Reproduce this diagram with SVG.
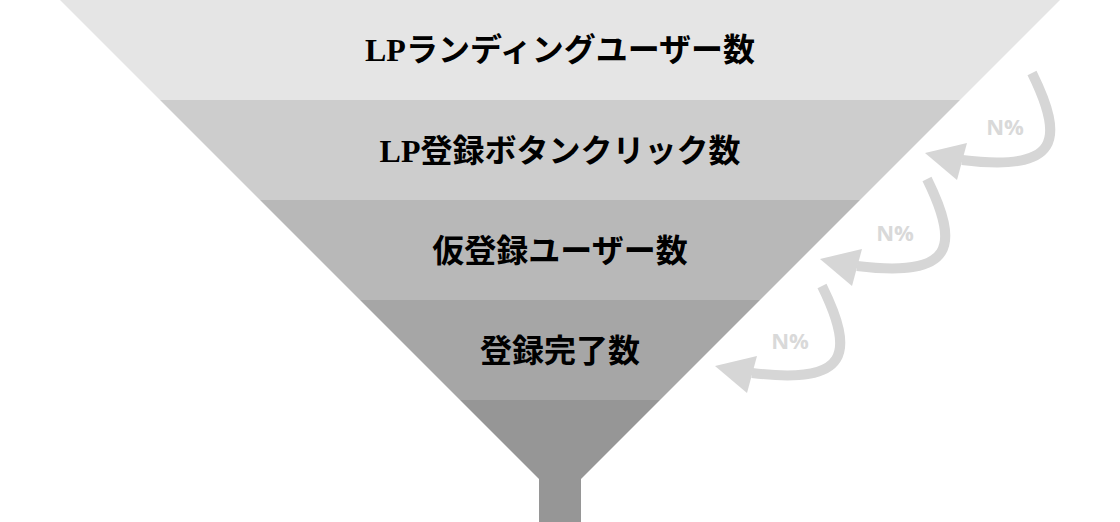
<svg xmlns="http://www.w3.org/2000/svg" xmlns:xlink="http://www.w3.org/1999/xlink" width="1120" height="522" viewBox="0 0 1120 522">
<style>
.lbl{font-family:"Liberation Serif","Noto Sans CJK JP",serif;font-weight:bold;font-size:32px;fill:#000;text-anchor:middle;dominant-baseline:central}
.pct{font-family:"Open Sans","Liberation Sans",sans-serif;font-weight:bold;font-size:22px;fill:#d9d9d9;text-anchor:middle;dominant-baseline:central}
.arc{fill:none;stroke:#d6d6d6;stroke-width:10}
.head{fill:#d6d6d6}
</style>
<defs>
<g id="loop">
<path class="arc" d="M1032,73 C1065,140 1060,172 962,160"/>
<polygon class="head" points="925,153 967,143 957,180"/>
</g>
</defs>
<rect width="1120" height="522" fill="#ffffff"/>
<g id="band1"><polygon points="60,0 1060,0 960,100 160,100" fill="#e5e5e5"/><text class="lbl" x="560" y="50">LPランディングユーザー数</text></g>
<g id="band2"><polygon points="160,100 960,100 860,200 260,200" fill="#cdcdcd"/><text class="lbl" x="560" y="151">LP登録ボタンクリック数</text></g>
<g id="band3"><polygon points="260,200 860,200 760,300 360,300" fill="#b8b8b8"/><text class="lbl" x="560" y="251">仮登録ユーザー数</text></g>
<g id="band4"><polygon points="360,300 760,300 660,400 460,400" fill="#a6a6a6"/><text class="lbl" x="560" y="351">登録完了数</text></g>
<g id="band5"><polygon points="460,400 660,400 581,479 581,522 539,522 539,479" fill="#969696"/></g>
<g id="connectors">
<use xlink:href="#loop"/>
<use xlink:href="#loop" transform="translate(-105,106)"/>
<use xlink:href="#loop" transform="translate(-210,213)"/>
</g>
<g id="labels">
<text class="pct" x="1005" y="126">N%</text>
<text class="pct" x="895" y="232">N%</text>
<text class="pct" x="790" y="340">N%</text>
</g>
</svg>
